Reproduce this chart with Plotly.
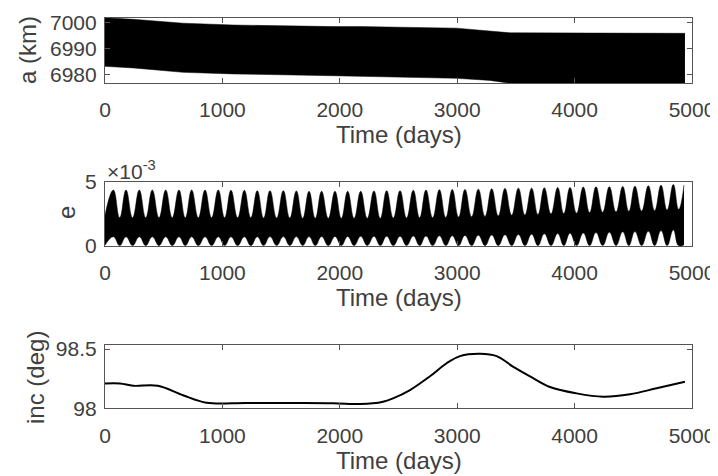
import plotly.graph_objects as go

# ---------------- data ----------------
# semi-major axis: envelope of the dense oscillation (km)
a_days = [0, 240, 665, 1090, 1942, 2172, 2995, 3280, 3390, 3450, 4157, 4940]
a_upper = [7001.8, 7001.2, 6999.7, 6999.0, 6998.4, 6998.4, 6997.8, 6996.8, 6996.2, 6996.0, 6995.9, 6995.8]
a_lower = [6983.1, 6982.5, 6980.8, 6980.2, 6979.5, 6979.3, 6978.5, 6977.7, 6977.1, 6976.6, 6976.5, 6976.5]

# eccentricity envelope (x 1e-3): alternating peak / trough samples
e_days = [0,
          71, 125, 179, 235, 292, 347, 403, 460, 517, 573, 630, 684, 738, 795, 852, 908,
          965, 1019, 1073, 1130, 1187, 1242, 1297, 1351, 1405, 1462, 1519, 1574, 1630, 1684,
          1738, 1791, 1845, 1902, 1959, 2013, 2067, 2122, 2178, 2234, 2291, 2345, 2399, 2456,
          2513, 2569, 2626, 2680, 2734, 2791, 2848, 2903, 2958, 3012, 3066, 3123, 3180, 3237,
          3294, 3350, 3407, 3464, 3521, 3577, 3634, 3688, 3742, 3799, 3856, 3908, 3961, 4017,
          4074, 4128, 4182, 4239, 4296, 4353, 4410, 4462, 4514, 4571, 4628, 4682, 4736, 4788,
          4841, 4886, 4932]
e_upper = [2.4,
           4.35, 2.2, 4.35, 2.2, 4.35, 2.2, 4.35, 2.2, 4.35, 2.2, 4.35, 2.2, 4.35, 2.2, 4.35, 2.2,
           4.35, 2.2, 4.33, 2.2, 4.33, 2.2, 4.3, 2.18, 4.3, 2.18, 4.3, 2.18, 4.28, 2.15,
           4.25, 2.15, 4.25, 2.15, 4.25, 2.15, 4.25, 2.15, 4.25, 2.15, 4.28, 2.15, 4.3, 2.18,
           4.3, 2.18, 4.33, 2.2, 4.35, 2.2, 4.38, 2.22, 4.4, 2.25, 4.4, 2.28, 4.42, 2.3,
           4.45, 2.35, 4.48, 2.4, 4.5, 2.42, 4.5, 2.45, 4.52, 2.5, 4.55, 2.52, 4.55, 2.55,
           4.58, 2.6, 4.6, 2.62, 4.6, 2.65, 4.62, 2.7, 4.65, 2.72, 4.68, 2.75, 4.72, 2.8,
           4.78, 2.85, 4.75]
e_lower = [0.05,
           0.72, 0.03, 0.72, 0.03, 0.72, 0.03, 0.72, 0.03, 0.72, 0.03, 0.72, 0.03, 0.72, 0.03, 0.72, 0.03,
           0.72, 0.03, 0.72, 0.03, 0.72, 0.03, 0.72, 0.03, 0.73, 0.03, 0.73, 0.03, 0.73, 0.03,
           0.73, 0.03, 0.74, 0.03, 0.74, 0.03, 0.74, 0.03, 0.75, 0.03, 0.75, 0.03, 0.76, 0.03,
           0.76, 0.03, 0.77, 0.03, 0.78, 0.03, 0.79, 0.03, 0.8, 0.03, 0.82, 0.03, 0.84, 0.03,
           0.86, 0.03, 0.88, 0.03, 0.9, 0.03, 0.92, 0.03, 0.95, 0.03, 0.97, 0.03, 1.0, 0.03,
           1.02, 0.03, 1.05, 0.03, 1.07, 0.03, 1.1, 0.03, 1.12, 0.03, 1.15, 0.03, 1.2, 0.03,
           1.25, 0.03, 0.1]

# inclination (deg)
inc_days = [0, 128, 240, 450, 665, 866, 1200, 1600, 1943, 2172, 2283, 2368, 2453, 2598, 2768,
            2910, 3024, 3194, 3336, 3478, 3620, 3790, 4017, 4244, 4472, 4699, 4940]
inc_vals = [98.21, 98.21, 98.19, 98.19, 98.11, 98.047, 98.045, 98.044, 98.042, 98.036, 98.042,
            98.056, 98.084, 98.154, 98.27, 98.38, 98.44, 98.46, 98.44, 98.35, 98.27, 98.18,
            98.126, 98.098, 98.118, 98.169, 98.224]

x_ticks = [0, 1000, 2000, 3000, 4000, 5000]

# ---------------- figure ----------------
W, H = 718, 476
OFF = 8  # page body margin of the host page
FONT = "Liberation Sans"
TXT = "#404040"
LINE = "#555555"


def px(x):
    return (x - OFF) / W


def py(y):
    return 1 - (y - OFF) / H


fig = go.Figure()
fig.add_trace(go.Scatter(x=a_days, y=a_lower, mode="lines", line=dict(width=0.5, color="black"),
                         xaxis="x", yaxis="y", showlegend=False, hoverinfo="skip"))
fig.add_trace(go.Scatter(x=a_days, y=a_upper, mode="lines", line=dict(width=0.5, color="black"),
                         fill="tonexty", fillcolor="black",
                         xaxis="x", yaxis="y", showlegend=False, hoverinfo="skip"))
fig.add_trace(go.Scatter(x=e_days, y=e_lower, mode="lines",
                         line=dict(width=0.5, color="black", shape="spline", smoothing=1.3),
                         xaxis="x2", yaxis="y2", showlegend=False, hoverinfo="skip"))
fig.add_trace(go.Scatter(x=e_days, y=e_upper, mode="lines",
                         line=dict(width=0.5, color="black", shape="spline", smoothing=1.3),
                         fill="tonexty", fillcolor="black",
                         xaxis="x2", yaxis="y2", showlegend=False, hoverinfo="skip"))
fig.add_trace(go.Scatter(x=inc_days, y=inc_vals, mode="lines",
                         line=dict(width=2, color="black", shape="spline"),
                         xaxis="x3", yaxis="y3", showlegend=False, hoverinfo="skip"))

common = dict(showline=True, linecolor=LINE, linewidth=1.2, mirror="ticks", ticks="inside",
              ticklen=5, tickcolor=LINE, tickwidth=1, showgrid=False, zeroline=False,
              automargin=False,
              tickfont=dict(family=FONT, size=21, color=TXT))

xdom = [px(105), px(692)]
doms = [[py(83), py(18)], [py(246), py(181.7)], [py(408.3), py(345)]]

layout = dict(width=W, height=H,
              margin=dict(l=0, r=0, t=0, b=0, pad=0, autoexpand=False),
              plot_bgcolor="white", paper_bgcolor="white", showlegend=False)
yranges = [[6976.7, 7001.7], [0, 5], [98.0, 98.534]]
yticks = [([6980, 6990, 7000], ["6980", "6990", "7000"]),
          ([0, 5], ["0", "5"]),
          ([98, 98.5], ["98", "98.5"])]
for i in range(3):
    sx = "xaxis" if i == 0 else f"xaxis{i+1}"
    sy = "yaxis" if i == 0 else f"yaxis{i+1}"
    ax = "y" if i == 0 else f"y{i+1}"
    axx = "x" if i == 0 else f"x{i+1}"
    layout[sx] = dict(common, domain=xdom, anchor=ax, range=[0, 5000], tickvals=x_ticks,
                      ticktext=[str(v) for v in x_ticks], ticklabelstandoff=8)
    layout[sy] = dict(common, domain=doms[i], anchor=axx, range=yranges[i],
                      tickvals=yticks[i][0], ticktext=yticks[i][1], ticklabelstandoff=3)

fig.update_layout(**layout)

ann = []
for yc in [135, 297, 460]:
    ann.append(dict(text="Time (days)", x=px(399), y=py(yc), xref="paper", yref="paper",
                    showarrow=False, xanchor="center", yanchor="middle",
                    font=dict(family=FONT, size=24, color=TXT)))
for txt, xc, yc in [("a (km)", 27, 50), ("e", 66, 213), ("inc (deg)", 35, 378)]:
    ann.append(dict(text=txt, x=px(xc), y=py(yc), xref="paper", yref="paper", textangle=-90,
                    showarrow=False, xanchor="center", yanchor="middle",
                    font=dict(family=FONT, size=24, color=TXT)))
ann.append(dict(text="×10<sup>-3</sup>", x=px(105), y=py(170), xref="paper", yref="paper",
                showarrow=False, xanchor="left", yanchor="middle",
                font=dict(family=FONT, size=21, color=TXT)))
fig.update_layout(annotations=ann)

fig.write_html("out.html")
